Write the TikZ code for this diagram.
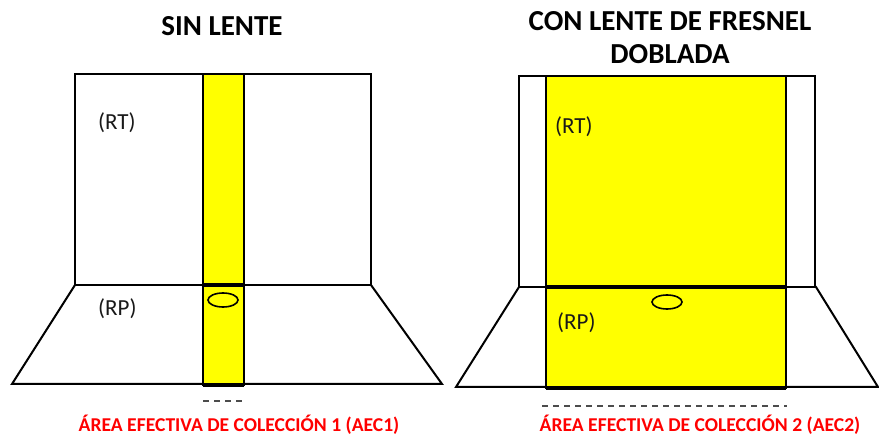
\documentclass[tikz,border=0pt]{standalone}
\usepackage{fontspec}
\setmainfont{Carlito}
\definecolor{lensyellow}{RGB}{255,255,0}
\definecolor{aecred}{RGB}{255,0,0}
\begin{document}
\begin{tikzpicture}[x=1pt,y=-1pt, line join=miter,
  wall/.style={draw=black, line width=2pt, fill=white},
  lens/.style={draw=black, line width=2pt, fill=lensyellow},
  edgeline/.style={line width=4pt},
  ring/.style={draw=black, line width=1.6pt},
  dashline/.style={draw=black!70, line width=1.5pt, dash pattern=on 6pt off 5pt},
  lbl/.style={text=black!90, font=\fontsize{23}{26}\selectfont, inner sep=0, anchor=west},
  ttl/.style={font=\fontsize{29}{33}\selectfont\bfseries, inner sep=0, align=center},
  aec/.style={text=aecred, font=\fontsize{19.6}{22}\selectfont\bfseries, inner sep=0}
]
\useasboundingbox (0,0) rectangle (879,435);
% ---------- left: sin lente ----------
\draw[wall] (75,285) -- (371,285) -- (442,384) -- (12,384) -- cycle;
\draw[wall] (75,74) rectangle (371,285);
\draw[lens] (203,74) rectangle (244,385);
\draw[edgeline] (203,285) -- (244,285);
\draw[edgeline] (203,385) -- (244,385);
\draw[ring] (223,300) ellipse [x radius=15, y radius=7];
\draw[dashline] (203,401) -- (244,401);
\node[lbl] (rt1) at (98,123) {(RT)};
\node[lbl] (rp1) at (98,309) {(RP)};
\node[ttl] (t1) at (222,26) {SIN LENTE};
\node[aec] (a1) at (239,425) {ÁREA EFECTIVA DE COLECCIÓN 1 (AEC1)};
% ---------- right: con lente ----------
\draw[wall] (519,287) -- (816,287) -- (878,387) -- (456,387) -- cycle;
\draw[wall] (519,76) rectangle (815,287);
\draw[lens] (546,76) rectangle (786,388);
\draw[edgeline] (546,287) -- (786,287);
\draw[edgeline] (546,388) -- (786,388);
\draw[ring] (667,302) ellipse [x radius=15, y radius=7];
\draw[dashline] (542,406) -- (787,406);
\node[lbl] (rt2) at (555,127) {(RT)};
\node[lbl] (rp2) at (557,323) {(RP)};
\node[ttl] (t2) at (670,38) {CON LENTE DE FRESNEL\\DOBLADA};
\node[aec] (a2) at (700,425) {ÁREA EFECTIVA DE COLECCIÓN 2 (AEC2)};
\end{tikzpicture}
\end{document}
